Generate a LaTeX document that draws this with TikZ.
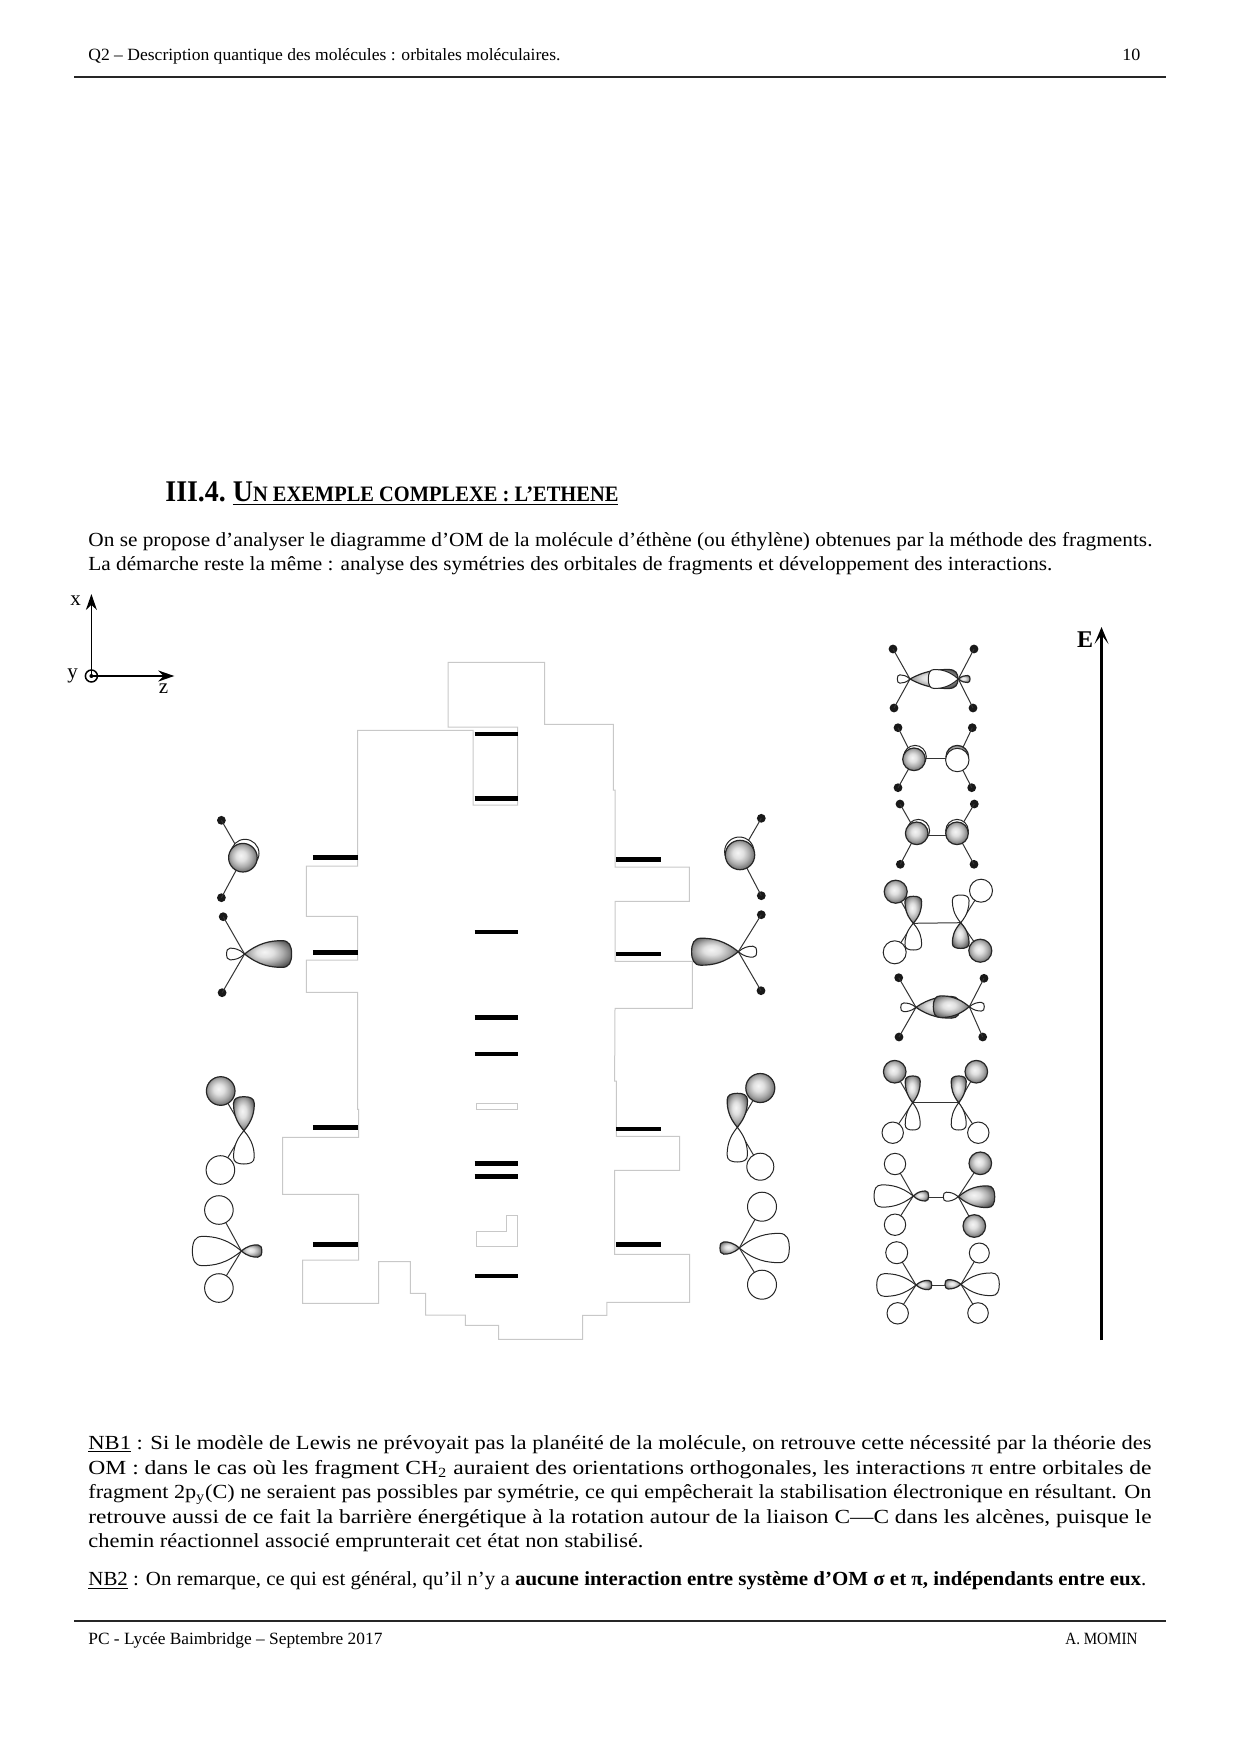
\documentclass[tikz,border=0pt]{standalone}
\usepackage{fontspec}
\setmainfont{Liberation Serif}
\usepackage{graphicx}
\usetikzlibrary{arrows.meta, calc, positioning}
\definecolor{outlineGrey}{HTML}{C8C8C8}
\pgfdeclareradialshading{orbshade}{\pgfpoint{-4bp}{4bp}}{%
  color(0bp)=(black!4); color(9bp)=(black!12); color(18bp)=(black!32);
  color(25bp)=(black!52); color(30bp)=(black!68); color(50bp)=(black!68)}
\tikzset{
  axisline/.style   = {-{Stealth[length=8pt,width=5.5pt]}, line width=0.75pt, black},
  pagerule/.style   = {line width=1pt, black!85},
  outline/.style    = {outlineGrey, line width=0.5pt},
  levelbar/.style   = {black, line width=2.4pt},
  bond/.style       = {black!80, line width=0.5pt},
  orbfull/.style    = {draw=black!85, line width=0.6pt, shading=orbshade},
  orbopen/.style    = {draw=black!85, line width=0.5pt, fill=white},
  txt/.style        = {anchor=base west, inner sep=0pt, font=\fontsize{10}{12}\selectfont},
  smalltxt/.style   = {anchor=base west, inner sep=0pt, font=\fontsize{8.6}{10}\selectfont},
  axislbl/.style    = {inner sep=0pt, font=\fontsize{10.5}{12}\selectfont},
}
% a line of text set to the width it has on the page
\newcommand{\fitline}[2]{\resizebox{#1}{\height}{#2}}
% lobe: style, apex x, apex y, angle, length, width
\newcommand{\lobe}[6]{%
  \begin{scope}[shift={(#2,#3)},rotate=#4]
    \path[#1] (0,0) .. controls ({.3*#5},{-.42*#6}) and ({.55*#5},{-.5*#6}) .. ({.8*#5},{-.5*#6})
      .. controls ({.95*#5},{-.5*#6}) and (#5,{-.3*#6}) .. (#5,0)
      .. controls (#5,{.3*#6}) and ({.95*#5},{.5*#6}) .. ({.8*#5},{.5*#6})
      .. controls ({.55*#5},{.5*#6}) and ({.3*#5},{.42*#6}) .. (0,0) -- cycle;
  \end{scope}}
\newcommand{\orb}[4]{\path[#1] (#2,#3) circle[radius=#4];}
\newcommand{\hdot}[2]{\fill[black!90] (#1,#2) circle[radius=4.4];}
\begin{document}
\begin{tikzpicture}[x=0.5pt,y=-0.5pt]
  \useasboundingbox (0,0) rectangle (1240,1754);
  % page head and foot
  \draw[pagerule] (74,77) -- (1166,77);
  \draw[pagerule] (74,1621) -- (1166,1621);
  \node[smalltxt] (head) at (88,60.5) {\fitline{236pt}{Q2 – Description quantique des molécules : orbitales moléculaires.}};
  \node[smalltxt] (pageno) at (1122,60.5) {\fitline{9pt}{10}};
  \node[smalltxt] (foot) at (88,1644) {\fitline{147pt}{PC - Lycée Baimbridge – Septembre 2017}};
  \node[smalltxt] (author) at (1065,1644) {\fitline{36pt}{A. MOMIN}};
  % title and first paragraph
  \node[anchor=base west, inner sep=0pt, font=\bfseries] (title) at (165,501.7) {\fitline{226.5pt}{\fontsize{15}{17}\selectfont III.4.\ \underline{U{\fontsize{11}{13}\selectfont N EXEMPLE COMPLEXE : L’ETHENE}}}};
  \node[txt] (intro1) at (88,546) {\fitline{532pt}{On se propose d’analyser le diagramme d’OM de la molécule d’éthène (ou éthylène) obtenues par la méthode des fragments.}};
  \node[txt] (intro2) at (88,570) {\fitline{482pt}{La démarche reste la même : analyse des symétries des orbitales de fragments et développement des interactions.}};
  % axes
  \coordinate (origin) at (91.4,676);
  \coordinate (xtip) at (91.4,594);
  \coordinate (ztip) at (174.3,676);
  \draw[axisline] (origin) -- (xtip);
  \draw[axisline] (origin) -- (ztip);
  \draw[black, line width=0.75pt] (origin) circle[radius=6];
  \fill (origin) circle[radius=2];
  \node[axislbl] (xlbl) at (75.5,601) {x};
  \node[axislbl] (ylbl) at (72.5,676) {y};
  \node[axislbl] (zlbl) at (163.6,689) {z};
  % energy arrow
  \coordinate (ebase) at (1101.5,1340);
  \coordinate (etip) at (1101.5,627);
  \draw[-{Stealth[length=8.5pt,width=7pt,inset=4.5pt]}, line width=1.25pt, black] (ebase) -- (etip);
  \node[inner sep=0pt, font=\bfseries\fontsize{12}{14}\selectfont] (elbl) at (1085,640) {E};
  % what is left of the cut-out box round the levels
  \draw[outline] (448,727) -- (448,662.3) -- (544.6,662.3) -- (544.6,724.3) -- (613.3,724.3) -- (613.3,790)
    -- (615,790) -- (615,867) -- (689.3,867) -- (689.3,901.3) -- (615,901.3) -- (615,961.3)
    -- (692.3,961.3) -- (692.3,1008.3) -- (615,1008.3) -- (614.6,1081) -- (616.4,1081) -- (616.4,1136.3)
    -- (679.6,1136.3) -- (679.6,1170.3) -- (614.6,1170.3) -- (614.6,1254.3) -- (689.6,1254.3) -- (689.6,1302.3)
    -- (606.8,1302.3) -- (606.8,1315.3) -- (582.5,1315.3) -- (582.5,1339.3) -- (498.6,1339.3) -- (498.6,1325.3)
    -- (465.4,1325.3) -- (465.4,1315) -- (425.7,1315) -- (425.7,1293.3) -- (410.4,1293.3) -- (410.4,1261.7)
    -- (378.6,1261.7) -- (378.6,1303.3) -- (302.5,1303.3) -- (302.5,1260) -- (358.6,1260) -- (358.6,1194.3)
    -- (282.5,1194.3) -- (282.5,1137.3) -- (358.6,1137.3) -- (358.6,1109.3) -- (357.5,1109.3) -- (357.5,992.3)
    -- (306.4,992.3) -- (306.4,960) -- (357.5,960) -- (357.5,916.3) -- (306.4,916.3) -- (306.4,866)
    -- (357.5,866) -- (357.5,730.3) -- (473.2,730.3) -- (473.2,805) -- (517.5,805) -- (517.5,727) -- cycle;
  \draw[outline] (476.4,1103.3) rectangle (517.5,1109.3);
  \draw[outline] (476.4,1231.7) -- (506.4,1231.7) -- (506.4,1215) -- (517.5,1215) -- (517.5,1246.3) -- (476.4,1246.3) -- cycle;
  % energy levels: left, right, middle
  \foreach \y in {857.7,952.3,1127.7,1244.3}
    \draw[levelbar] (312.9,\y) -- (358,\y);
  \foreach \y in {859.3,954,1129,1244.3}
    \draw[levelbar] (616,\y) -- (661,\y);
  \foreach \y/\w in {734/2.4,798.3/2.4,931.7/1.9,1017.3/2.4,1053.7/2.2,1163.7/2.4,1176.3/2.4,1276/2.4}
    \draw[levelbar, line width=\w pt] (474.5,\y) -- (517.5,\y);
  % left fragment orbitals
  \hdot{221.4}{820.3} \hdot{221.4}{897.7}
  \draw[bond] (221.4,820.3) -- (242.9,857.7) -- (221.4,897.7);
  \orb{orbopen}{245}{853.3}{14}
  \orb{orbfull}{242.9}{857.7}{14.3}
  \hdot{223.2}{916.7} \hdot{222.1}{992.7}
  \draw[bond] (223.2,916.7) -- (244.6,954) -- (222.1,992.7);
  \lobe{orbopen}{244.6}{954}{180}{18}{11.7}
  \lobe{orbfull}{244.6}{954}{0}{47}{26.7}
  \draw[bond] (220.7,1091) -- (243.9,1130.7) -- (220.4,1170);
  \orb{orbfull}{220.7}{1091}{14.3}
  \orb{orbopen}{220.4}{1170}{14.3}
  \lobe{orbfull}{243.9}{1130.7}{90}{34}{20.7}
  \lobe{orbopen}{243.9}{1130.7}{-90}{33.3}{20.7}
  \draw[bond] (218.9,1210) -- (241.4,1251) -- (218.9,1288);
  \orb{orbopen}{218.9}{1210}{14.3}
  \orb{orbopen}{218.9}{1288}{14.3}
  \lobe{orbopen}{241.4}{1251}{180}{49}{29.3}
  \lobe{orbfull}{241.4}{1251}{0}{20.4}{12.3}
  % right fragment orbitals
  \hdot{761.3}{818.3} \hdot{761.3}{895.7}
  \draw[bond] (761.3,818.3) -- (740,855) -- (761.3,895.7);
  \orb{orbopen}{739.3}{851.7}{14.7}
  \orb{orbfull}{740}{855}{14.7}
  \hdot{761.3}{914.7} \hdot{761}{990.7}
  \draw[bond] (761.3,914.7) -- (738.3,951.7) -- (761,990.7);
  \lobe{orbopen}{738.3}{951.7}{0}{18.3}{11}
  \lobe{orbfull}{738.3}{951.7}{180}{46.7}{27}
  \draw[bond] (760.3,1088) -- (737.3,1127.3) -- (760.3,1166.7);
  \orb{orbfull}{760.3}{1088}{14.5}
  \orb{orbopen}{760.3}{1166.7}{13.5}
  \lobe{orbfull}{737.3}{1127.3}{90}{34}{20.3}
  \lobe{orbopen}{737.3}{1127.3}{-90}{34.7}{20.3}
  \draw[bond] (762,1206.7) -- (739.3,1248) -- (762,1284.7);
  \orb{orbopen}{762}{1206.7}{14.5}
  \orb{orbopen}{762}{1284.7}{14.5}
  \lobe{orbfull}{739.3}{1248}{180}{19.3}{12.3}
  \lobe{orbopen}{739.3}{1248}{0}{50}{29.3}
  % molecular orbitals, top to bottom
  \hdot{893}{649} \hdot{974}{649} \hdot{894}{708} \hdot{973}{708}
  \draw[bond] (893,649) -- (910,679) -- (894,708);
  \draw[bond] (974,649) -- (958.3,679) -- (973,708);
  \lobe{orbfull}{910}{679}{0}{48}{19}
  \lobe{orbopen}{958.3}{679}{180}{30}{19}
  \lobe{orbopen}{910}{679}{180}{12.7}{8.3}
  \lobe{orbfull}{958.3}{679}{0}{11.7}{7}
  %
  \hdot{898}{727.7} \hdot{972.3}{727.7} \hdot{898}{787.7} \hdot{971.7}{787.7}
  \draw[bond] (898,727.7) -- (914,759.3) -- (898,787.7);
  \draw[bond] (972.3,727.7) -- (957.3,759.3) -- (971.7,787.7);
  \draw[bond] (914,758.7) -- (957.3,758.7);
  \orb{orbopen}{915}{756.7}{11.3}
  \orb{orbfull}{914}{759.3}{11.3}
  \orb{orbfull}{957.3}{756.7}{11.3}
  \orb{orbopen}{957.3}{760}{11.7}
  %
  \hdot{900}{804} \hdot{974.3}{804} \hdot{900.3}{864.3} \hdot{974}{864.3}
  \draw[bond] (900,804) -- (916.7,833.3) -- (900.3,864.3);
  \draw[bond] (974.3,804) -- (957,833.3) -- (974,864.3);
  \draw[bond] (916.7,835) -- (957,835);
  \orb{orbopen}{918.3}{830.7}{11.3}
  \orb{orbfull}{916.7}{833.3}{11.3}
  \orb{orbopen}{957}{830.7}{11.3}
  \orb{orbfull}{957}{833.3}{11.3}
  %
  \draw[bond] (895.7,891.7) -- (913.3,923.3) -- (894.7,952.3);
  \draw[bond] (981,890.7) -- (960.7,922.7) -- (980.3,950.7);
  \draw[bond] (913.3,923.3) -- (960.7,922.7);
  \orb{orbfull}{895.7}{891.7}{11.5}
  \orb{orbopen}{981}{890.7}{11.5}
  \orb{orbopen}{894.7}{952.3}{11.5}
  \orb{orbfull}{980.3}{950.7}{11.5}
  \lobe{orbfull}{913.3}{923.3}{90}{27}{16.7}
  \lobe{orbopen}{913.3}{923.3}{-90}{26.7}{16.7}
  \lobe{orbopen}{960.7}{922.7}{90}{27.7}{16.7}
  \lobe{orbfull}{960.7}{922.7}{-90}{25.7}{16.7}
  %
  \hdot{898.7}{977.7} \hdot{984}{978.3} \hdot{899}{1037} \hdot{982.7}{1037}
  \draw[bond] (898.7,977.7) -- (916,1007.3) -- (899,1037);
  \draw[bond] (984,978.3) -- (969.3,1006.7) -- (982.7,1037);
  \lobe{orbfull}{916}{1007.3}{0}{44}{21.7}
  \lobe{orbfull}{969.3}{1006.7}{180}{36}{21.7}
  \lobe{orbopen}{916}{1007.3}{180}{15.3}{8.7}
  \lobe{orbopen}{969.3}{1006.7}{0}{15}{8.7}
  %
  \draw[bond] (894.7,1071.7) -- (912.7,1102.7) -- (892.7,1132.7);
  \draw[bond] (976.3,1071.7) -- (958.7,1102.7) -- (978.3,1132.7);
  \draw[bond] (912.7,1102.7) -- (958.7,1102.7);
  \orb{orbfull}{894.7}{1071.7}{11.3}
  \orb{orbfull}{976.3}{1071.7}{11.3}
  \orb{orbopen}{892.7}{1132.7}{10.7}
  \orb{orbopen}{978.3}{1132.7}{10.7}
  \lobe{orbfull}{912.7}{1102.7}{90}{26.7}{15}
  \lobe{orbopen}{912.7}{1102.7}{-90}{27.3}{15}
  \lobe{orbfull}{958.7}{1102.7}{90}{26.7}{15}
  \lobe{orbopen}{958.7}{1102.7}{-90}{27.3}{15}
  %
  \draw[bond] (895,1164) -- (913.3,1196) -- (895,1224.7);
  \draw[bond] (980.3,1163.3) -- (958.3,1196.7) -- (974.3,1226);
  \draw[bond] (928.7,1197) -- (943.3,1197);
  \orb{orbopen}{895}{1164}{10.7}
  \orb{orbopen}{895}{1224.7}{10.7}
  \orb{orbfull}{980.3}{1163.3}{11.3}
  \orb{orbfull}{974.3}{1226}{11.3}
  \lobe{orbopen}{913.3}{1196}{180}{39.3}{22.3}
  \lobe{orbfull}{913.3}{1196}{0}{15.3}{10}
  \lobe{orbopen}{958.3}{1196.7}{180}{15}{9}
  \lobe{orbfull}{958.3}{1196.7}{0}{36.4}{21.7}
  %
  \draw[bond] (896.7,1252.7) -- (916,1285) -- (897.7,1313.3);
  \draw[bond] (979.3,1253) -- (961,1284.3) -- (978,1313);
  \draw[bond] (931.7,1285) -- (945,1285);
  \orb{orbopen}{896.7}{1252.7}{11}
  \orb{orbopen}{979.3}{1253}{10}
  \orb{orbopen}{897.7}{1313.3}{10.7}
  \orb{orbopen}{978}{1313}{10.3}
  \lobe{orbopen}{916}{1285}{180}{39.3}{22.7}
  \lobe{orbfull}{916}{1285}{0}{15.7}{9.3}
  \lobe{orbfull}{961}{1284.3}{180}{16}{9.3}
  \lobe{orbopen}{961}{1284.3}{0}{38.3}{22.7}
  % notes below the diagram
  \node[txt] (nba) at (88,1449) {\fitline{531.5pt}{\underline{NB1} : Si le modèle de Lewis ne prévoyait pas la planéité de la molécule, on retrouve cette nécessité par la théorie des}};
  \node[txt] (nbb) at (88,1474.5) {\fitline{531.5pt}{OM : dans le cas où les fragment CH\textsubscript{2} auraient des orientations orthogonales, les interactions π entre orbitales de}};
  \node[txt] (nbc) at (88,1498.5) {\fitline{531.5pt}{fragment 2p\textsubscript{y}(C) ne seraient pas possibles par symétrie, ce qui empêcherait la stabilisation électronique en résultant. On}};
  \node[txt] (nbd) at (88,1523) {\fitline{531.5pt}{retrouve aussi de ce fait la barrière énergétique à la rotation autour de la liaison C—C dans les alcènes, puisque le}};
  \node[txt] (nbe) at (88,1547.5) {\fitline{277.5pt}{chemin réactionnel associé emprunterait cet état non stabilisé.}};
  \node[txt] (nbf) at (88,1585.5) {\fitline{529pt}{\underline{NB2} : On remarque, ce qui est général, qu’il n’y a \textbf{aucune interaction entre système d’OM σ et π, indépendants entre eux}.}};
\end{tikzpicture}
\end{document}
